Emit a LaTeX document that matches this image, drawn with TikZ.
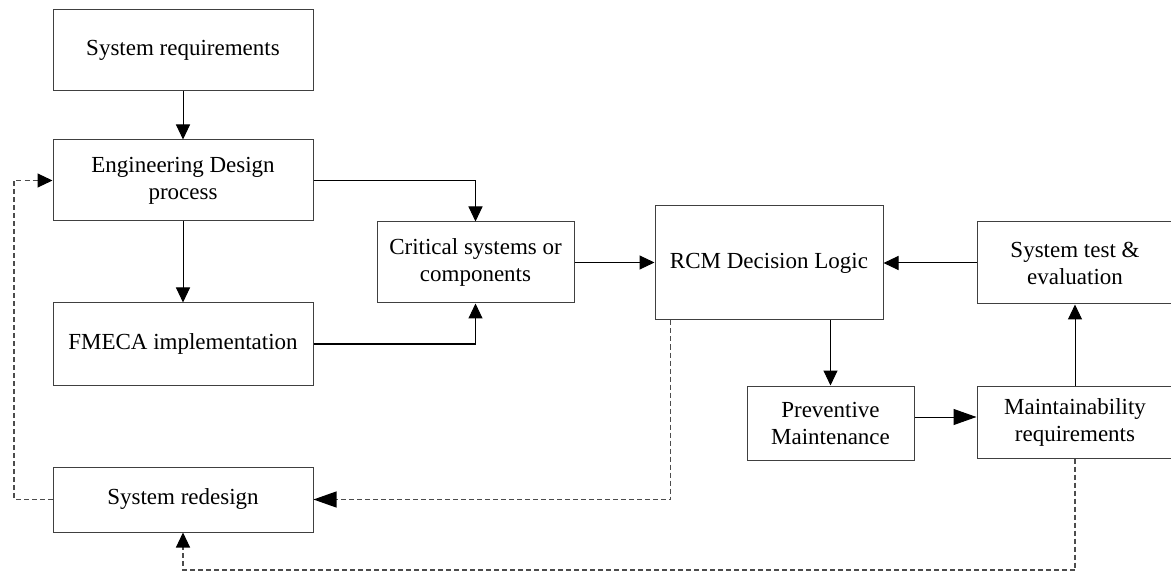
\documentclass[tikz,border=0pt]{standalone}
\usepackage{fontspec}
\setmainfont{Liberation Serif}
\usetikzlibrary{arrows.meta}

\tikzset{
  box/.style={draw=black!75, line width=1pt, align=center, inner sep=0pt,
    font=\fontsize{23}{27}\selectfont},
  flow/.style={draw=black, line width=1pt, -{Triangle[length=15pt,width=14pt]}},
  flowlong/.style={draw=black, line width=1pt, -{Triangle[length=23pt,width=16pt]}},
  back/.style={draw=black!70, line width=1.1pt, dash pattern=on 5pt off 3pt,
    -{Triangle[length=15pt,width=14pt,color=black]}},
  backlong/.style={draw=black!70, line width=1.1pt, dash pattern=on 5pt off 3pt,
    -{Triangle[length=23pt,width=16pt,color=black]}},
}

\begin{document}
\begin{tikzpicture}[x=1pt,y=-1pt]
  \useasboundingbox (0,0) rectangle (1171,572);

  % left column
  \node[box, minimum width=260pt, minimum height=81pt] (sysreq) at (183,50.5) {System requirements};
  \node[box, minimum width=260pt, minimum height=81pt] (eng) at (183,180.5) {Engineering Design\\process};
  \node[box, minimum width=260pt, minimum height=82pt] (fmeca) at (183,344) {FMECA implementation};
  \node[box, minimum width=260pt, minimum height=65pt] (redesign) at (183,499.5) {System redesign};

  % middle and right
  \node[box, minimum width=197pt, minimum height=81pt] (crit) at (475.5,262.5) {Critical systems or\\components};
  \node[box, minimum width=228pt, minimum height=114pt] (rcm) at (769,263) {RCM Decision Logic};
  \node[box, minimum width=196pt, minimum height=82pt] (systest) at (1075,263) {System test \&\\evaluation};
  \node[box, minimum width=167pt, minimum height=74pt] (pm) at (830.5,423) {Preventive\\Maintenance};
  \node[box, minimum width=196pt, minimum height=72pt] (mr) at (1075,422) {Maintainability\\requirements};

  % routing points for the feedback loops
  \coordinate (lx) at (14,0);
  \coordinate (by) at (0,570);

  % main flow
  \draw[flow] (sysreq.south) -- (eng.north);
  \draw[flow] (eng.south) -- (fmeca.north);
  \draw[flow] (eng.east) -- (eng.east -| crit.north) -- (crit.north);
  \draw[flow] (fmeca.east) -- (fmeca.east -| crit.south) -- (crit.south);
  \draw[flow] (crit.east) -- (crit.east -| rcm.west);
  \draw[flow] (systest.west) -- (systest.west -| rcm.east);
  \draw[flow] (rcm.south -| pm.north) -- (pm.north);
  \draw[flowlong] ([yshift=6pt]pm.east) -- ([yshift=6pt]pm.east -| mr.west);
  \draw[flow] (mr.north) -- (mr.north |- systest.south);

  % feedback loops
  \draw[backlong] ([xshift=16pt]rcm.south west) -- ([xshift=16pt]rcm.south west |- redesign.east) -- (redesign.east);
  \draw[back] (redesign.west) -- (redesign.west -| lx) -- (eng.west -| lx) -- (eng.west);
  \draw[back] (mr.south) -- (mr.south |- by) -- (redesign.south |- by) -- (redesign.south);
\end{tikzpicture}
\end{document}
